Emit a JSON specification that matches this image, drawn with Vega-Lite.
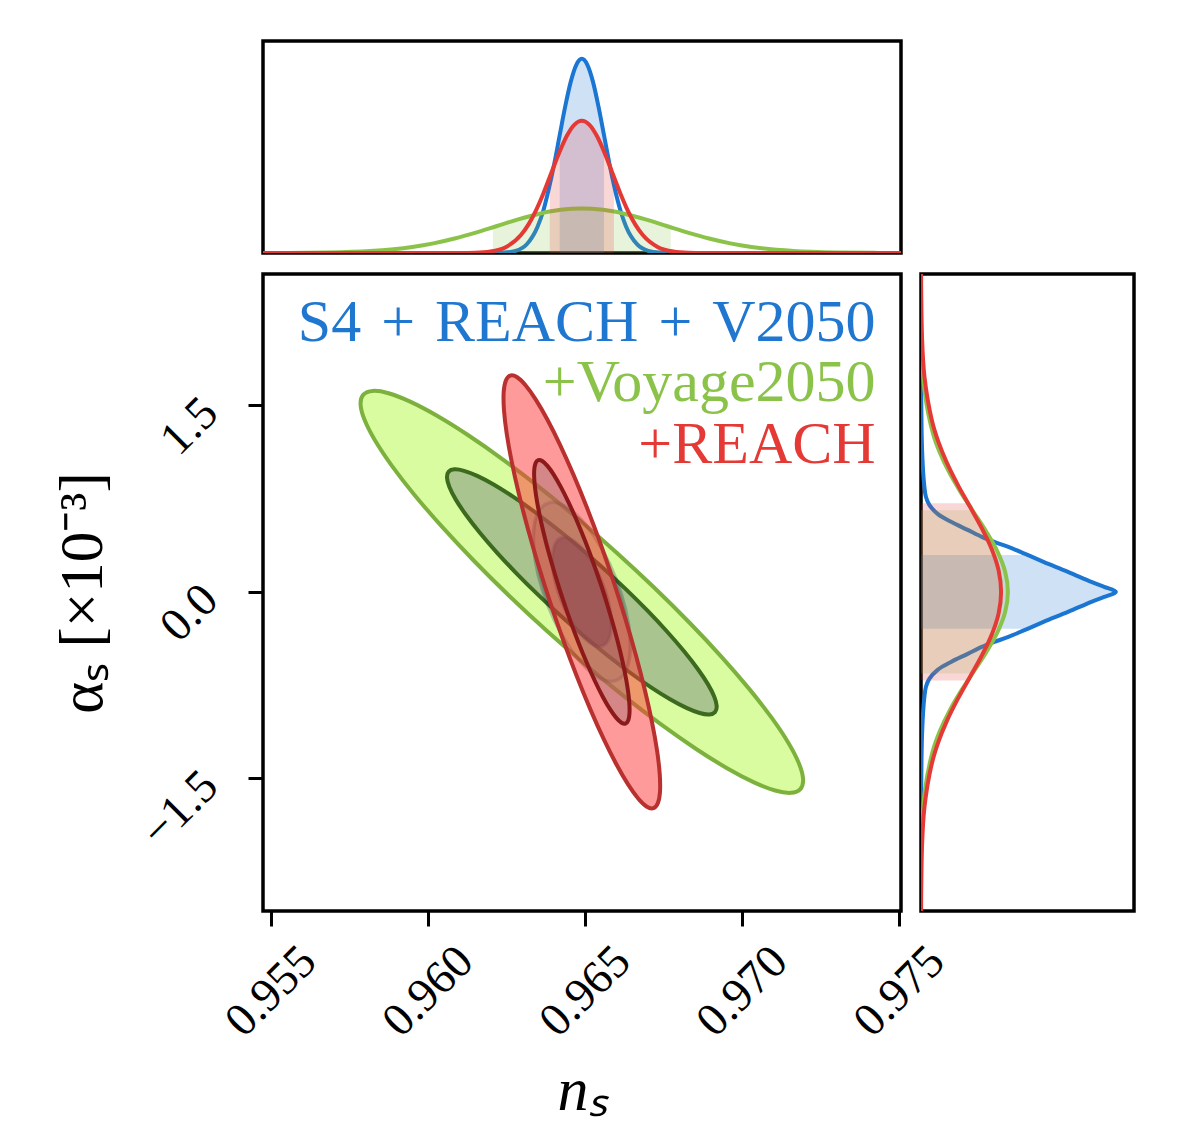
{
  "$schema": "https://vega.github.io/schema/vega-lite/v6.json",
  "background": "white",
  "padding": {"left": 50, "top": 39, "right": 0, "bottom": 0},
  "config": {
    "view": {"stroke": "#000000", "strokeWidth": 3.5},
    "font": "Liberation Serif"
  },
  "columns": 2,
  "spacing": {"row": 21, "column": 20},
  "bounds": "flush",
  "align": "each",
  "datasets": {
    "top": [
      {"s":"b","x":0.95475,"d":0},{"s":"b","x":0.96208,"d":0.0003},{"s":"b","x":0.96243,"d":0.002},{"s":"b","x":0.96279,"d":0.0102},{"s":"b","x":0.96314,"d":0.0402},{"s":"b","x":0.96349,"d":0.124},{"s":"b","x":0.96367,"d":0.1981},{"s":"b","x":0.96384,"d":0.2974},{"s":"b","x":0.96402,"d":0.4194},{"s":"b","x":0.964195,"d":0.5556},{"s":"b","x":0.964371,"d":0.6914},{"s":"b","x":0.964548,"d":0.8084},{"s":"b","x":0.964724,"d":0.8878},{"s":"b","x":0.9649,"d":0.916},{"s":"b","x":0.965076,"d":0.8878},{"s":"b","x":0.965253,"d":0.8084},{"s":"b","x":0.965429,"d":0.6914},{"s":"b","x":0.965605,"d":0.5556},{"s":"b","x":0.965781,"d":0.4194},{"s":"b","x":0.965958,"d":0.2974},{"s":"b","x":0.966134,"d":0.1981},{"s":"b","x":0.96631,"d":0.124},{"s":"b","x":0.966663,"d":0.0402},{"s":"b","x":0.967015,"d":0.0102},{"s":"b","x":0.967368,"d":0.002},{"s":"b","x":0.96772,"d":0.0003},{"s":"b","x":0.97506,"d":0},
      {"s":"r","x":0.95475,"d":0},{"s":"r","x":0.96102,"d":0.0002},{"s":"r","x":0.961505,"d":0.0014},{"s":"r","x":0.96199,"d":0.0069},{"s":"r","x":0.962475,"d":0.0274},{"s":"r","x":0.96296,"d":0.0845},{"s":"r","x":0.963203,"d":0.135},{"s":"r","x":0.963445,"d":0.2026},{"s":"r","x":0.963688,"d":0.2857},{"s":"r","x":0.96393,"d":0.3785},{"s":"r","x":0.964173,"d":0.471},{"s":"r","x":0.964415,"d":0.5507},{"s":"r","x":0.964658,"d":0.6048},{"s":"r","x":0.9649,"d":0.624},{"s":"r","x":0.965143,"d":0.6048},{"s":"r","x":0.965385,"d":0.5507},{"s":"r","x":0.965628,"d":0.471},{"s":"r","x":0.96587,"d":0.3785},{"s":"r","x":0.966113,"d":0.2857},{"s":"r","x":0.966355,"d":0.2026},{"s":"r","x":0.966598,"d":0.135},{"s":"r","x":0.96684,"d":0.0845},{"s":"r","x":0.967325,"d":0.0274},{"s":"r","x":0.96781,"d":0.0069},{"s":"r","x":0.968295,"d":0.0014},{"s":"r","x":0.96878,"d":0.0002},{"s":"r","x":0.97506,"d":0},
      {"s":"g","x":0.95475,"d":0.0002},{"s":"g","x":0.95545,"d":0.0005},{"s":"g","x":0.9568,"d":0.0023},{"s":"g","x":0.95815,"d":0.0092},{"s":"g","x":0.9595,"d":0.0284},{"s":"g","x":0.960175,"d":0.0454},{"s":"g","x":0.96085,"d":0.0682},{"s":"g","x":0.961525,"d":0.0961},{"s":"g","x":0.9622,"d":0.1274},{"s":"g","x":0.962875,"d":0.1585},{"s":"g","x":0.96355,"d":0.1853},{"s":"g","x":0.964225,"d":0.2035},{"s":"g","x":0.9649,"d":0.21},{"s":"g","x":0.965575,"d":0.2035},{"s":"g","x":0.96625,"d":0.1853},{"s":"g","x":0.966925,"d":0.1585},{"s":"g","x":0.9676,"d":0.1274},{"s":"g","x":0.968275,"d":0.0961},{"s":"g","x":0.96895,"d":0.0682},{"s":"g","x":0.969625,"d":0.0454},{"s":"g","x":0.9703,"d":0.0284},{"s":"g","x":0.97165,"d":0.0092},{"s":"g","x":0.973,"d":0.0023},{"s":"g","x":0.97435,"d":0.0005},{"s":"g","x":0.97506,"d":0.0002}
    ],
    "topfill": [
      {"s":"b","x":0.964195,"d":0.5556},{"s":"b","x":0.964371,"d":0.6914},{"s":"b","x":0.964548,"d":0.8084},{"s":"b","x":0.964724,"d":0.8878},{"s":"b","x":0.9649,"d":0.916},{"s":"b","x":0.965076,"d":0.8878},{"s":"b","x":0.965253,"d":0.8084},{"s":"b","x":0.965429,"d":0.6914},{"s":"b","x":0.965605,"d":0.5556},
      {"s":"r","x":0.96388,"d":0.359},{"s":"r","x":0.964173,"d":0.471},{"s":"r","x":0.964415,"d":0.5507},{"s":"r","x":0.964658,"d":0.6048},{"s":"r","x":0.9649,"d":0.624},{"s":"r","x":0.965143,"d":0.6048},{"s":"r","x":0.965385,"d":0.5507},{"s":"r","x":0.965628,"d":0.471},{"s":"r","x":0.96592,"d":0.359},
      {"s":"g","x":0.96207,"d":0.1208},{"s":"g","x":0.962875,"d":0.1585},{"s":"g","x":0.96355,"d":0.1853},{"s":"g","x":0.964225,"d":0.2035},{"s":"g","x":0.9649,"d":0.21},{"s":"g","x":0.965575,"d":0.2035},{"s":"g","x":0.96625,"d":0.1853},{"s":"g","x":0.966925,"d":0.1585},{"s":"g","x":0.96773,"d":0.1208}
    ],
    "right": [
      {"s":"b","a":-2.565,"d":0},{"s":"b","a":-1.608,"d":0.001},{"s":"b","a":-1.206,"d":0.004},{"s":"b","a":-0.965,"d":0.01},{"s":"b","a":-0.844,"d":0.016},{"s":"b","a":-0.764,"d":0.023},{"s":"b","a":-0.699,"d":0.039},{"s":"b","a":-0.627,"d":0.078},{"s":"b","a":-0.563,"d":0.141},{"s":"b","a":-0.498,"d":0.219},{"s":"b","a":-0.442,"d":0.285},{"s":"b","a":-0.402,"d":0.344},{"s":"b","a":-0.362,"d":0.41},{"s":"b","a":-0.297,"d":0.5},{"s":"b","a":-0.241,"d":0.575},{"s":"b","a":-0.161,"d":0.69},{"s":"b","a":-0.08,"d":0.8},{"s":"b","a":-0.04,"d":0.86},{"s":"b","a":0,"d":0.915},{"s":"b","a":0.04,"d":0.86},{"s":"b","a":0.08,"d":0.8},{"s":"b","a":0.161,"d":0.69},{"s":"b","a":0.241,"d":0.575},{"s":"b","a":0.297,"d":0.5},{"s":"b","a":0.362,"d":0.41},{"s":"b","a":0.402,"d":0.344},{"s":"b","a":0.442,"d":0.285},{"s":"b","a":0.498,"d":0.219},{"s":"b","a":0.563,"d":0.141},{"s":"b","a":0.627,"d":0.078},{"s":"b","a":0.699,"d":0.039},{"s":"b","a":0.764,"d":0.023},{"s":"b","a":0.844,"d":0.016},{"s":"b","a":0.965,"d":0.01},{"s":"b","a":1.206,"d":0.004},{"s":"b","a":1.608,"d":0.001},{"s":"b","a":2.555,"d":0},
      {"s":"r","a":-2.565,"d":0.0004},{"s":"r","a":-2.415,"d":0.0008},{"s":"r","a":-2.07,"d":0.0042},{"s":"r","a":-1.725,"d":0.0165},{"s":"r","a":-1.38,"d":0.0509},{"s":"r","a":-1.2075,"d":0.0813},{"s":"r","a":-1.035,"d":0.1221},{"s":"r","a":-0.8625,"d":0.1721},{"s":"r","a":-0.69,"d":0.2281},{"s":"r","a":-0.5175,"d":0.2838},{"s":"r","a":-0.345,"d":0.3318},{"s":"r","a":-0.1725,"d":0.3644},{"s":"r","a":0,"d":0.376},{"s":"r","a":0.1725,"d":0.3644},{"s":"r","a":0.345,"d":0.3318},{"s":"r","a":0.5175,"d":0.2838},{"s":"r","a":0.69,"d":0.2281},{"s":"r","a":0.8625,"d":0.1721},{"s":"r","a":1.035,"d":0.1221},{"s":"r","a":1.2075,"d":0.0813},{"s":"r","a":1.38,"d":0.0509},{"s":"r","a":1.725,"d":0.0165},{"s":"r","a":2.07,"d":0.0042},{"s":"r","a":2.415,"d":0.0008},{"s":"r","a":2.555,"d":0.0004},
      {"s":"g","a":-2.565,"d":0.0001},{"s":"g","a":-2.24,"d":0.0009},{"s":"g","a":-1.92,"d":0.0045},{"s":"g","a":-1.6,"d":0.0179},{"s":"g","a":-1.28,"d":0.0552},{"s":"g","a":-1.12,"d":0.0882},{"s":"g","a":-0.96,"d":0.1325},{"s":"g","a":-0.8,"d":0.1868},{"s":"g","a":-0.64,"d":0.2475},{"s":"g","a":-0.48,"d":0.308},{"s":"g","a":-0.32,"d":0.3601},{"s":"g","a":-0.16,"d":0.3954},{"s":"g","a":0,"d":0.408},{"s":"g","a":0.16,"d":0.3954},{"s":"g","a":0.32,"d":0.3601},{"s":"g","a":0.48,"d":0.308},{"s":"g","a":0.64,"d":0.2475},{"s":"g","a":0.8,"d":0.1868},{"s":"g","a":0.96,"d":0.1325},{"s":"g","a":1.12,"d":0.0882},{"s":"g","a":1.28,"d":0.0552},{"s":"g","a":1.6,"d":0.0179},{"s":"g","a":1.92,"d":0.0045},{"s":"g","a":2.24,"d":0.0009},{"s":"g","a":2.555,"d":0.0001}
    ],
    "rightfill": [
      {"s":"b","a":-0.297,"d":0.5},{"s":"b","a":-0.241,"d":0.575},{"s":"b","a":-0.161,"d":0.69},{"s":"b","a":-0.08,"d":0.8},{"s":"b","a":-0.04,"d":0.86},{"s":"b","a":0,"d":0.915},{"s":"b","a":0.04,"d":0.86},{"s":"b","a":0.08,"d":0.8},{"s":"b","a":0.161,"d":0.69},{"s":"b","a":0.241,"d":0.575},{"s":"b","a":0.297,"d":0.5},
      {"s":"r","a":-0.712,"d":0.2208},{"s":"r","a":-0.5175,"d":0.2838},{"s":"r","a":-0.345,"d":0.3318},{"s":"r","a":-0.1725,"d":0.3644},{"s":"r","a":0,"d":0.376},{"s":"r","a":0.1725,"d":0.3644},{"s":"r","a":0.345,"d":0.3318},{"s":"r","a":0.5175,"d":0.2838},{"s":"r","a":0.712,"d":0.2208},
      {"s":"g","a":-0.656,"d":0.2413},{"s":"g","a":-0.48,"d":0.308},{"s":"g","a":-0.32,"d":0.3601},{"s":"g","a":-0.16,"d":0.3954},{"s":"g","a":0,"d":0.408},{"s":"g","a":0.16,"d":0.3954},{"s":"g","a":0.32,"d":0.3601},{"s":"g","a":0.48,"d":0.308},{"s":"g","a":0.656,"d":0.2413}
    ],
    "ell": [
      {"e":"go","i":0,"x":0.971855,"a":-1.5853},{"e":"go","i":1,"x":0.971944,"a":-1.5069},{"e":"go","i":2,"x":0.971818,"a":-1.3828},{"e":"go","i":3,"x":0.971482,"a":-1.2165},{"e":"go","i":4,"x":0.970946,"a":-1.0133},{"e":"go","i":5,"x":0.970227,"a":-0.7795},{"e":"go","i":6,"x":0.969346,"a":-0.5218},{"e":"go","i":7,"x":0.968329,"a":-0.2483},{"e":"go","i":8,"x":0.967208,"a":0.0328},{"e":"go","i":9,"x":0.966018,"a":0.3127},{"e":"go","i":10,"x":0.964793,"a":0.5832},{"e":"go","i":11,"x":0.963572,"a":0.836},{"e":"go","i":12,"x":0.96239,"a":1.0635},{"e":"go","i":13,"x":0.961285,"a":1.2586},{"e":"go","i":14,"x":0.960291,"a":1.4154},{"e":"go","i":15,"x":0.959436,"a":1.5292},{"e":"go","i":16,"x":0.958746,"a":1.5967},{"e":"go","i":17,"x":0.958244,"a":1.6155},{"e":"go","i":18,"x":0.957945,"a":1.5853},{"e":"go","i":19,"x":0.957856,"a":1.5069},{"e":"go","i":20,"x":0.957982,"a":1.3828},{"e":"go","i":21,"x":0.958318,"a":1.2165},{"e":"go","i":22,"x":0.958854,"a":1.0133},{"e":"go","i":23,"x":0.959573,"a":0.7795},{"e":"go","i":24,"x":0.960454,"a":0.5218},{"e":"go","i":25,"x":0.961471,"a":0.2483},{"e":"go","i":26,"x":0.962592,"a":-0.0328},{"e":"go","i":27,"x":0.963782,"a":-0.3127},{"e":"go","i":28,"x":0.965007,"a":-0.5832},{"e":"go","i":29,"x":0.966228,"a":-0.836},{"e":"go","i":30,"x":0.96741,"a":-1.0635},{"e":"go","i":31,"x":0.968515,"a":-1.2586},{"e":"go","i":32,"x":0.969509,"a":-1.4154},{"e":"go","i":33,"x":0.970365,"a":-1.5292},{"e":"go","i":34,"x":0.971054,"a":-1.5967},{"e":"go","i":35,"x":0.971556,"a":-1.6155},
      {"e":"gi","i":0,"x":0.969139,"a":-0.9663},{"e":"gi","i":1,"x":0.969193,"a":-0.9185},{"e":"gi","i":2,"x":0.969116,"a":-0.8429},{"e":"gi","i":3,"x":0.968912,"a":-0.7416},{"e":"gi","i":4,"x":0.968585,"a":-0.6177},{"e":"gi","i":5,"x":0.968147,"a":-0.4752},{"e":"gi","i":6,"x":0.96761,"a":-0.3182},{"e":"gi","i":7,"x":0.96699,"a":-0.1514},{"e":"gi","i":8,"x":0.966307,"a":0.0199},{"e":"gi","i":9,"x":0.965582,"a":0.1905},{"e":"gi","i":10,"x":0.964835,"a":0.3554},{"e":"gi","i":11,"x":0.964091,"a":0.5095},{"e":"gi","i":12,"x":0.963371,"a":0.6481},{"e":"gi","i":13,"x":0.962697,"a":0.7671},{"e":"gi","i":14,"x":0.962091,"a":0.8627},{"e":"gi","i":15,"x":0.96157,"a":0.9321},{"e":"gi","i":16,"x":0.96115,"a":0.9732},{"e":"gi","i":17,"x":0.960844,"a":0.9847},{"e":"gi","i":18,"x":0.960661,"a":0.9663},{"e":"gi","i":19,"x":0.960607,"a":0.9185},{"e":"gi","i":20,"x":0.960684,"a":0.8429},{"e":"gi","i":21,"x":0.960888,"a":0.7416},{"e":"gi","i":22,"x":0.961215,"a":0.6177},{"e":"gi","i":23,"x":0.961653,"a":0.4752},{"e":"gi","i":24,"x":0.96219,"a":0.3182},{"e":"gi","i":25,"x":0.96281,"a":0.1514},{"e":"gi","i":26,"x":0.963493,"a":-0.0199},{"e":"gi","i":27,"x":0.964218,"a":-0.1905},{"e":"gi","i":28,"x":0.964965,"a":-0.3554},{"e":"gi","i":29,"x":0.965709,"a":-0.5095},{"e":"gi","i":30,"x":0.966429,"a":-0.6481},{"e":"gi","i":31,"x":0.967103,"a":-0.7671},{"e":"gi","i":32,"x":0.967709,"a":-0.8627},{"e":"gi","i":33,"x":0.96823,"a":-0.9321},{"e":"gi","i":34,"x":0.96865,"a":-0.9732},{"e":"gi","i":35,"x":0.968956,"a":-0.9847},
      {"e":"bo","i":0,"x":0.963801,"a":0.7115},{"e":"bo","i":1,"x":0.964238,"a":0.705},{"e":"bo","i":2,"x":0.964755,"a":0.6135},{"e":"bo","i":3,"x":0.965289,"a":0.4481},{"e":"bo","i":4,"x":0.965777,"a":0.2286},{"e":"bo","i":5,"x":0.966158,"a":-0.0185},{"e":"bo","i":6,"x":0.966388,"a":-0.2633},{"e":"bo","i":7,"x":0.966439,"a":-0.4764},{"e":"bo","i":8,"x":0.966303,"a":-0.6321},{"e":"bo","i":9,"x":0.965999,"a":-0.7115},{"e":"bo","i":10,"x":0.965562,"a":-0.705},{"e":"bo","i":11,"x":0.965045,"a":-0.6135},{"e":"bo","i":12,"x":0.964511,"a":-0.4481},{"e":"bo","i":13,"x":0.964024,"a":-0.2286},{"e":"bo","i":14,"x":0.963642,"a":0.0185},{"e":"bo","i":15,"x":0.963412,"a":0.2633},{"e":"bo","i":16,"x":0.963362,"a":0.4764},{"e":"bo","i":17,"x":0.963497,"a":0.6321},
      {"e":"bi","i":0,"x":0.96423,"a":0.4336},{"e":"bi","i":1,"x":0.964497,"a":0.4297},{"e":"bi","i":2,"x":0.964812,"a":0.3739},{"e":"bi","i":3,"x":0.965137,"a":0.2731},{"e":"bi","i":4,"x":0.965434,"a":0.1393},{"e":"bi","i":5,"x":0.965667,"a":-0.0113},{"e":"bi","i":6,"x":0.965807,"a":-0.1605},{"e":"bi","i":7,"x":0.965838,"a":-0.2904},{"e":"bi","i":8,"x":0.965755,"a":-0.3852},{"e":"bi","i":9,"x":0.96557,"a":-0.4336},{"e":"bi","i":10,"x":0.965303,"a":-0.4297},{"e":"bi","i":11,"x":0.964988,"a":-0.3739},{"e":"bi","i":12,"x":0.964663,"a":-0.2731},{"e":"bi","i":13,"x":0.964366,"a":-0.1393},{"e":"bi","i":14,"x":0.964133,"a":0.0113},{"e":"bi","i":15,"x":0.963993,"a":0.1605},{"e":"bi","i":16,"x":0.963962,"a":0.2904},{"e":"bi","i":17,"x":0.964045,"a":0.3852},
      {"e":"ro","i":0,"x":0.962619,"a":1.7384},{"e":"ro","i":1,"x":0.962829,"a":1.7266},{"e":"ro","i":2,"x":0.963101,"a":1.6624},{"e":"ro","i":3,"x":0.963429,"a":1.5476},{"e":"ro","i":4,"x":0.963801,"a":1.3858},{"e":"ro","i":5,"x":0.964206,"a":1.182},{"e":"ro","i":6,"x":0.964632,"a":0.9422},{"e":"ro","i":7,"x":0.965067,"a":0.6737},{"e":"ro","i":8,"x":0.965497,"a":0.3848},{"e":"ro","i":9,"x":0.965908,"a":0.0842},{"e":"ro","i":10,"x":0.966289,"a":-0.2188},{"e":"ro","i":11,"x":0.966627,"a":-0.5154},{"e":"ro","i":12,"x":0.966913,"a":-0.7963},{"e":"ro","i":13,"x":0.967138,"a":-1.0529},{"e":"ro","i":14,"x":0.967295,"a":-1.2775},{"e":"ro","i":15,"x":0.967379,"a":-1.4634},{"e":"ro","i":16,"x":0.967388,"a":-1.6048},{"e":"ro","i":17,"x":0.967321,"a":-1.6974},{"e":"ro","i":18,"x":0.967181,"a":-1.7384},{"e":"ro","i":19,"x":0.966971,"a":-1.7266},{"e":"ro","i":20,"x":0.966699,"a":-1.6624},{"e":"ro","i":21,"x":0.966371,"a":-1.5476},{"e":"ro","i":22,"x":0.965999,"a":-1.3858},{"e":"ro","i":23,"x":0.965594,"a":-1.182},{"e":"ro","i":24,"x":0.965168,"a":-0.9422},{"e":"ro","i":25,"x":0.964733,"a":-0.6737},{"e":"ro","i":26,"x":0.964303,"a":-0.3848},{"e":"ro","i":27,"x":0.963892,"a":-0.0842},{"e":"ro","i":28,"x":0.963511,"a":0.2188},{"e":"ro","i":29,"x":0.963173,"a":0.5154},{"e":"ro","i":30,"x":0.962887,"a":0.7963},{"e":"ro","i":31,"x":0.962662,"a":1.0529},{"e":"ro","i":32,"x":0.962505,"a":1.2775},{"e":"ro","i":33,"x":0.962421,"a":1.4634},{"e":"ro","i":34,"x":0.962412,"a":1.6048},{"e":"ro","i":35,"x":0.962479,"a":1.6974},
      {"e":"ri","i":0,"x":0.96351,"a":1.0592},{"e":"ri","i":1,"x":0.963638,"a":1.052},{"e":"ri","i":2,"x":0.963804,"a":1.0129},{"e":"ri","i":3,"x":0.964004,"a":0.943},{"e":"ri","i":4,"x":0.96423,"a":0.8444},{"e":"ri","i":5,"x":0.964477,"a":0.7202},{"e":"ri","i":6,"x":0.964737,"a":0.5741},{"e":"ri","i":7,"x":0.965002,"a":0.4105},{"e":"ri","i":8,"x":0.965264,"a":0.2345},{"e":"ri","i":9,"x":0.965514,"a":0.0514},{"e":"ri","i":10,"x":0.965746,"a":-0.1333},{"e":"ri","i":11,"x":0.965953,"a":-0.314},{"e":"ri","i":12,"x":0.966127,"a":-0.4851},{"e":"ri","i":13,"x":0.966264,"a":-0.6415},{"e":"ri","i":14,"x":0.96636,"a":-0.7784},{"e":"ri","i":15,"x":0.966411,"a":-0.8916},{"e":"ri","i":16,"x":0.966416,"a":-0.9778},{"e":"ri","i":17,"x":0.966375,"a":-1.0342},{"e":"ri","i":18,"x":0.96629,"a":-1.0592},{"e":"ri","i":19,"x":0.966162,"a":-1.052},{"e":"ri","i":20,"x":0.965996,"a":-1.0129},{"e":"ri","i":21,"x":0.965796,"a":-0.943},{"e":"ri","i":22,"x":0.96557,"a":-0.8444},{"e":"ri","i":23,"x":0.965323,"a":-0.7202},{"e":"ri","i":24,"x":0.965063,"a":-0.5741},{"e":"ri","i":25,"x":0.964798,"a":-0.4105},{"e":"ri","i":26,"x":0.964536,"a":-0.2345},{"e":"ri","i":27,"x":0.964286,"a":-0.0514},{"e":"ri","i":28,"x":0.964054,"a":0.1333},{"e":"ri","i":29,"x":0.963847,"a":0.314},{"e":"ri","i":30,"x":0.963673,"a":0.4851},{"e":"ri","i":31,"x":0.963536,"a":0.6415},{"e":"ri","i":32,"x":0.96344,"a":0.7784},{"e":"ri","i":33,"x":0.963389,"a":0.8916},{"e":"ri","i":34,"x":0.963384,"a":0.9778},{"e":"ri","i":35,"x":0.963425,"a":1.0342}
    ],
    "leg": [
      {"t":"S4\u2004+\u2004REACH\u2004+\u2004V2050","x":0.97425,"a":2.015,"c":"#1f77d0"},
      {"t":"+Voyage2050","x":0.97425,"a":1.533,"c":"#8bc34a"},
      {"t":"+REACH","x":0.97425,"a":1.035,"c":"#e53935"}
    ]
  },
  "concat": [
    {
      "width": 638,
      "height": 212,
      "encoding": {
        "x": {"field": "x", "type": "quantitative", "scale": {"domain": [0.95475, 0.97506]}, "axis": null},
        "y": {"field": "d", "type": "quantitative", "scale": {"domain": [0, 1]}, "axis": null}
      },
      "layer": [
        {"data": {"name": "topfill"}, "transform": [{"filter": "datum.s == 'b'"}], "mark": {"type": "area", "color": "#1a76d2", "opacity": 0.21, "interpolate": "monotone"}},
        {"data": {"name": "top"}, "transform": [{"filter": "datum.s == 'b'"}], "mark": {"type": "line", "color": "#1a76d2", "strokeWidth": 4, "interpolate": "monotone", "clip": true}},
        {"data": {"name": "topfill"}, "transform": [{"filter": "datum.s == 'g'"}], "mark": {"type": "area", "color": "#8bc34a", "opacity": 0.2, "interpolate": "monotone"}},
        {"data": {"name": "top"}, "transform": [{"filter": "datum.s == 'g'"}], "mark": {"type": "line", "color": "#8bc34a", "strokeWidth": 4, "interpolate": "monotone", "clip": true}},
        {"data": {"name": "topfill"}, "transform": [{"filter": "datum.s == 'r'"}], "mark": {"type": "area", "color": "#e53935", "opacity": 0.2, "interpolate": "monotone"}},
        {"data": {"name": "top"}, "transform": [{"filter": "datum.s == 'r'"}], "mark": {"type": "line", "color": "#e53935", "strokeWidth": 4, "interpolate": "monotone", "clip": true}}
      ]
    },
    {
      "width": 213,
      "height": 212,
      "view": {"stroke": null},
      "data": {"values": []},
      "mark": "point"
    },
    {
      "width": 638,
      "height": 637,
      "data": {"name": "ell"},
      "encoding": {
        "x": {"field": "x", "type": "quantitative", "scale": {"domain": [0.95475, 0.97506]},
          "title": "nₛ",
          "axis": {"values": [0.955, 0.96, 0.965, 0.97, 0.975], "format": ".3f", "labelAngle": -45, "labelAlign": "center", "labelBaseline": "middle", "labelPadding": 65, "labelFontSize": 47, "labelColor": "#000000", "labelFlush": false, "labelOverlap": false, "labelBound": false, "tickSize": 15, "tickWidth": 3, "tickColor": "#000000", "domain": false, "grid": false, "titleFontSize": 62, "titleFontStyle": "italic", "titleFontWeight": "normal", "titleColor": "#000000", "titleBaseline": "alphabetic", "titleY": 198}},
        "y": {"field": "a", "type": "quantitative", "scale": {"domain": [-2.565, 2.555]},
          "title": "αₛ [×10⁻³]",
          "axis": {"values": [-1.5, 0, 1.5], "format": ".1f", "labelAngle": -45, "labelAlign": "right", "labelBaseline": "middle", "labelPadding": 38, "labelFontSize": 47, "labelColor": "#000000", "labelFlush": false, "labelOverlap": false, "labelBound": false, "tickSize": 15, "tickWidth": 3, "tickColor": "#000000", "domain": false, "grid": false, "titleFontSize": 61, "titleFontWeight": "normal", "titleColor": "#000000", "titleAngle": -90, "titleBaseline": "middle", "titleAlign": "center", "titleX": -180, "titleY": 318.5}}
      },
      "layer": [
        {"transform": [{"filter": "datum.e == 'go'"}], "mark": {"type": "line", "interpolate": "cardinal-closed", "fill": "#dafca1", "fillOpacity": 1, "stroke": "#7db13e", "strokeWidth": 4}, "encoding": {"order": {"field": "i", "type": "quantitative"}}},
        {"transform": [{"filter": "datum.e == 'gi'"}], "mark": {"type": "line", "interpolate": "cardinal-closed", "fill": "#a9c48f", "fillOpacity": 1, "stroke": "#3c6a1e", "strokeWidth": 4}, "encoding": {"order": {"field": "i", "type": "quantitative"}}},
        {"transform": [{"filter": "datum.e == 'bo'"}], "mark": {"type": "line", "interpolate": "cardinal-closed", "fill": "#0d2240", "fillOpacity": 0.13, "stroke": "#0d2240", "strokeOpacity": 0.25, "strokeWidth": 3.5}, "encoding": {"order": {"field": "i", "type": "quantitative"}}},
        {"transform": [{"filter": "datum.e == 'bi'"}], "mark": {"type": "line", "interpolate": "cardinal-closed", "fill": "#0d2240", "fillOpacity": 0.5, "stroke": "#0d2240", "strokeOpacity": 0.3, "strokeWidth": 3.5}, "encoding": {"order": {"field": "i", "type": "quantitative"}}},
        {"transform": [{"filter": "datum.e == 'ro'"}], "mark": {"type": "line", "interpolate": "cardinal-closed", "fill": "#ff3535", "fillOpacity": 0.5, "stroke": "#b8312f", "strokeWidth": 4}, "encoding": {"order": {"field": "i", "type": "quantitative"}}},
        {"transform": [{"filter": "datum.e == 'ri'"}], "mark": {"type": "line", "interpolate": "cardinal-closed", "fill": "#966a6a", "fillOpacity": 0.4, "stroke": "#8c1a1a", "strokeWidth": 4}, "encoding": {"order": {"field": "i", "type": "quantitative"}}},
        {"data": {"name": "leg"}, "mark": {"type": "text", "align": "right", "baseline": "alphabetic", "fontSize": 60, "font": "Liberation Serif"}, "encoding": {"text": {"field": "t"}, "color": {"field": "c", "type": "nominal", "scale": null}}}
      ]
    },
    {
      "width": 213,
      "height": 637,
      "encoding": {
        "x": {"field": "d", "type": "quantitative", "scale": {"domain": [0, 1]}, "axis": null},
        "y": {"field": "a", "type": "quantitative", "scale": {"domain": [-2.565, 2.555]}, "axis": null}
      },
      "layer": [
        {"data": {"name": "rightfill"}, "transform": [{"filter": "datum.s == 'b'"}], "mark": {"type": "area", "orient": "horizontal", "color": "#1a76d2", "opacity": 0.21, "interpolate": "catmull-rom"}},
        {"data": {"name": "right"}, "transform": [{"filter": "datum.s == 'b'"}], "mark": {"type": "line", "color": "#1a76d2", "strokeWidth": 4, "interpolate": "catmull-rom", "clip": true}, "encoding": {"order": {"field": "a", "type": "quantitative"}}},
        {"data": {"name": "rightfill"}, "transform": [{"filter": "datum.s == 'g'"}], "mark": {"type": "area", "orient": "horizontal", "color": "#8bc34a", "opacity": 0.2, "interpolate": "catmull-rom"}},
        {"data": {"name": "right"}, "transform": [{"filter": "datum.s == 'g'"}], "mark": {"type": "line", "color": "#8bc34a", "strokeWidth": 4, "interpolate": "catmull-rom", "clip": true}, "encoding": {"order": {"field": "a", "type": "quantitative"}}},
        {"data": {"name": "rightfill"}, "transform": [{"filter": "datum.s == 'r'"}], "mark": {"type": "area", "orient": "horizontal", "color": "#e53935", "opacity": 0.2, "interpolate": "catmull-rom"}},
        {"data": {"name": "right"}, "transform": [{"filter": "datum.s == 'r'"}], "mark": {"type": "line", "color": "#e53935", "strokeWidth": 4, "interpolate": "catmull-rom", "clip": true}, "encoding": {"order": {"field": "a", "type": "quantitative"}}}
      ]
    }
  ]
}
